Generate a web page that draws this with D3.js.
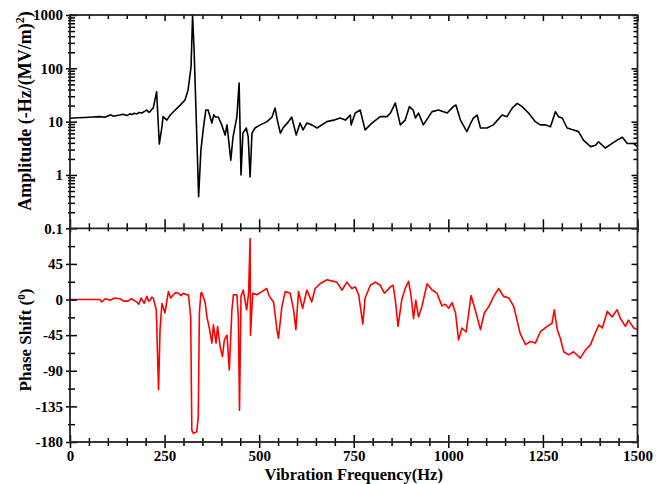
<!DOCTYPE html>
<html>
<head>
<meta charset="utf-8">
<script src="https://cdn.jsdelivr.net/npm/d3@7"></script>
<style>
  html, body { margin: 0; padding: 0; background: #fff; }
  svg { display: block; }
  text { font-family: "Liberation Serif", "Times New Roman", serif; font-weight: bold; fill: #000; }
</style>
</head>
<body>
<svg id="chart" width="658" height="484"></svg>
<script>
// ---------- data ----------
const ampFreq = [0,20,40,60,79,92,100,108,115,124,132,140,150,158,165,170,176,183,190,197,203,208,212,216,220,229,236,243,246,256,265,278,290,304,312,320,324,328,333,340,346,353,359,365,370,375,380,384,392,396,401,410,415,425,431,441,447,452,457,466,471,476,481,489,503,520,534,542,548,556,563,577,586,598,608,616,626,639,653,679,700,714,728,741,743,754,767,780,798,820,838,847,860,873,886,897,907,913,921,934,957,974,997,1013,1020,1032,1049,1058,1066,1076,1085,1102,1119,1142,1155,1169,1182,1195,1212,1230,1243,1257,1270,1283,1291,1301,1314,1331,1344,1357,1376,1389,1397,1415,1433,1446,1460,1473,1489,1500];
const ampVal = [11.6,11.8,12.0,12.2,12.4,12.1,12.8,13.4,12.6,13.0,13.3,13.8,13.0,14.0,13.6,14.4,13.9,14.8,14.5,15.6,16.5,15.0,15.5,17.0,18.0,36.5,3.8,8.0,12.4,10.7,13.3,16.5,20,25.5,39,107,1000,221,16.5,0.39,2.9,8.0,16.5,16.5,12.5,9.4,13.5,12.2,12.2,10.5,8.7,5.6,8.7,1.9,5.2,12.2,53,1.0,6.1,7.6,5.2,0.92,6.1,7.6,8.7,9.9,12.2,18,10.7,6.1,7.6,9.9,12.2,5.6,9.4,7.0,9.4,8.7,7.6,10,10.8,11.7,10.7,13.3,8.7,14.5,16.5,7.0,9.4,12.4,12.4,14.5,22.4,8.7,10.7,19.1,16.5,11.7,14.5,8.7,15.4,16.5,14.5,19.1,20.5,10.7,6.5,9.0,11.6,13.3,7.6,7.6,8.7,13.3,12.4,18,22,19.1,14.5,10,8.7,8.7,8.0,15.4,12.4,11.7,7.6,7.0,6.5,4.5,3.4,3.6,4.2,3.2,3.9,4.5,5.1,3.9,3.9,3.4];

const phaseFreq = [0,79,84,93,100,106,118,132,142,153,162,176,182,188,196,203,208,212,216,220,228,234,238,243,251,260,266,273,280,287,293,300,307,313,319,322,326,335,339,342,346,348,357,362,369,375,379,386,390,397,403,408,415,421,428,432,441,445,448,452,458,467,472,476,477,483,494,507,520,527,538,547,551,560,569,582,591,597,604,615,626,639,648,661,679,705,719,732,745,754,763,774,780,794,807,820,831,847,854,860,867,877,886,895,901,908,914,921,930,944,957,970,983,992,1001,1010,1019,1027,1036,1047,1060,1071,1085,1095,1107,1120,1133,1146,1160,1173,1190,1204,1217,1230,1243,1261,1274,1280,1288,1296,1305,1318,1331,1349,1362,1376,1384,1398,1407,1420,1433,1446,1455,1468,1476,1490,1500];
const phaseVal = [0,0,-3,1,0,-1,2,1,-2,-2,1,-3,-6,2,-5,4,-2,-1,3,2,-13,-114,-38,-5,-17,10,2,6,9,8,5,8,6,6,-22,-165,-169,-167,-148,-17,8,9,-3,-22,-38,-55,-32,-55,-34,-60,-72,-51,-45,-89,-13,6,6,-22,-140,4,12,-13,8,77,-45,8,6,10,14,4,-3,-38,-49,-9,10,8,-13,-38,10,-11,12,-3,14,20,25,22,12,22,14,16,6,-31,2,18,22,18,8,16,18,-1,-34,0,14,23,6,-24,-1,-22,-9,20,12,8,-8,-6,-11,-4,-17,-51,-36,-41,5,-13,-38,-17,-9,4,14,4,2,-9,-43,-57,-53,-55,-41,-34,-30,-13,-38,-49,-66,-70,-66,-74,-64,-57,-47,-32,-36,-15,-22,-13,-24,-34,-26,-36,-38];

const xTicks = [0,250,500,750,1000,1250,1500];
const ampTicks = [0.1,1,10,100,1000];
const phaseTicks = [-180,-135,-90,-45,0,45];

// ---------- layout ----------
const svg = d3.select("#chart");
const L = 70, R = 637.5, T = 15, M = 228.3, B = 442;

const x = d3.scaleLinear().domain([0,1500]).range([L,R]);
const yA = d3.scaleLog().domain([0.1,1000]).range([M,T]);
const yP = d3.scaleLinear().domain([-180,90]).range([B,M]);

const xMinor = d3.range(0,1501,50);
const ampAll = [];
[0.1,1,10,100].forEach(d => { for (let k=1;k<10;k++) ampAll.push(+(d*k).toPrecision(3)); });
ampAll.push(1000);
const phaseAll = d3.range(-180, 90, 22.5);

function isMajorX(d){ return xTicks.includes(d); }
function isMajorA(d){ return ampTicks.includes(d); }
function isMajorP(d){ return phaseTicks.includes(d); }

const fontTick = 15;

function styleAxis(g){
  g.select(".domain").remove();
  g.selectAll(".tick line").attr("stroke","#000").attr("stroke-width",1.5);
  g.selectAll(".tick text").style("font-size", fontTick + "px");
}

// clip paths
const defs = svg.append("defs");
defs.append("clipPath").attr("id","clipTop").append("rect")
  .attr("x",L).attr("y",T-1).attr("width",R-L).attr("height",M-T+1);
defs.append("clipPath").attr("id","clipBot").append("rect")
  .attr("x",L).attr("y",M).attr("width",R-L).attr("height",B-M);

// ---------- data lines ----------
const ampData = ampFreq.map((f,i)=>[f, ampVal[i]]);
const phData = phaseFreq.map((f,i)=>[f, phaseVal[i]]);

svg.append("path").datum(ampData)
  .attr("clip-path","url(#clipTop)")
  .attr("fill","none").attr("stroke","#000").attr("stroke-width",1.6)
  .attr("stroke-linejoin","round")
  .attr("d", d3.line().x(d=>x(d[0])).y(d=>yA(d[1])));

svg.append("path").datum(phData)
  .attr("clip-path","url(#clipBot)")
  .attr("fill","none").attr("stroke","#ff0000").attr("stroke-width",1.6)
  .attr("stroke-linejoin","round")
  .attr("d", d3.line().x(d=>x(d[0])).y(d=>yP(d[1])));

// ---------- axes ----------
const gAL = svg.append("g").attr("transform",`translate(${L},0)`)
  .call(d3.axisLeft(yA).tickValues(ampAll).tickSize(0).tickPadding(7)
    .tickFormat(d => isMajorA(d) ? String(d) : ""));
styleAxis(gAL);
gAL.selectAll(".tick line").attr("x1", d => isMajorA(d) ? -4 : -2).attr("x2", d => isMajorA(d) ? 7 : 5);

const gAR = svg.append("g").attr("transform",`translate(${R},0)`)
  .call(d3.axisRight(yA).tickValues(ampAll).tickSize(0).tickFormat(""));
styleAxis(gAR);
gAR.selectAll(".tick line").attr("x1", d => isMajorA(d) ? -6 : -4).attr("x2", 0);

const gPL = svg.append("g").attr("transform",`translate(${L},0)`)
  .call(d3.axisLeft(yP).tickValues(phaseAll).tickSize(0).tickPadding(7)
    .tickFormat(d => isMajorP(d) ? String(d) : ""));
styleAxis(gPL);
gPL.selectAll(".tick line").attr("x1", d => isMajorP(d) ? -4 : -2).attr("x2", d => isMajorP(d) ? 7 : 5);

const gPR = svg.append("g").attr("transform",`translate(${R},0)`)
  .call(d3.axisRight(yP).tickValues(phaseAll).tickSize(0).tickFormat(""));
styleAxis(gPR);
gPR.selectAll(".tick line").attr("x1", d => isMajorP(d) ? -6 : -5).attr("x2", 0);

const gXT = svg.append("g").attr("transform",`translate(0,${T})`)
  .call(d3.axisTop(x).tickValues(xMinor).tickSize(0).tickFormat(""));
styleAxis(gXT);
gXT.selectAll(".tick line").attr("y1",0).attr("y2", d => isMajorX(d) ? 6 : 4);

const gXM = svg.append("g").attr("transform",`translate(0,${M})`)
  .call(d3.axisBottom(x).tickValues(xMinor).tickSize(0).tickFormat(""));
styleAxis(gXM);
gXM.selectAll(".tick line").attr("y1", d => isMajorX(d) ? -9 : -5).attr("y2", d => isMajorX(d) ? 4 : 3);

const gXB = svg.append("g").attr("transform",`translate(0,${B})`)
  .call(d3.axisBottom(x).tickValues(xMinor).tickSize(0).tickPadding(8)
    .tickFormat(d => isMajorX(d) ? String(d) : ""));
styleAxis(gXB);
gXB.selectAll(".tick line").attr("y1", d => isMajorX(d) ? -7 : -4).attr("y2", d => isMajorX(d) ? 6 : 4);

// frame lines
const frame = svg.append("g").attr("stroke","#222").attr("stroke-width",1.8).attr("fill","none");
frame.append("rect").attr("x",L).attr("y",T).attr("width",R-L).attr("height",B-T);
frame.append("line").attr("x1",L).attr("x2",R).attr("y1",M).attr("y2",M);

// ---------- titles ----------
svg.append("text")
  .attr("x", (L+R)/2).attr("y", 479.5)
  .attr("text-anchor","middle").style("font-size","16.5px")
  .text("Vibration Frequency(Hz)");

const tA = svg.append("text")
  .attr("transform","translate(31,111) rotate(-90)")
  .attr("text-anchor","middle").style("font-size","18px");
tA.append("tspan").text("Amplitude (-Hz/(MV/m)");
tA.append("tspan").attr("baseline-shift","super").style("font-size","12px").text("2");
tA.append("tspan").text(")");

const tP = svg.append("text")
  .attr("transform","translate(31,340) rotate(-90)")
  .attr("text-anchor","middle").style("font-size","17px");
tP.append("tspan").text("Phase Shift (");
tP.append("tspan").attr("baseline-shift","super").style("font-size","11px").text("0");
tP.append("tspan").text(")");
</script>
</body>
</html>
